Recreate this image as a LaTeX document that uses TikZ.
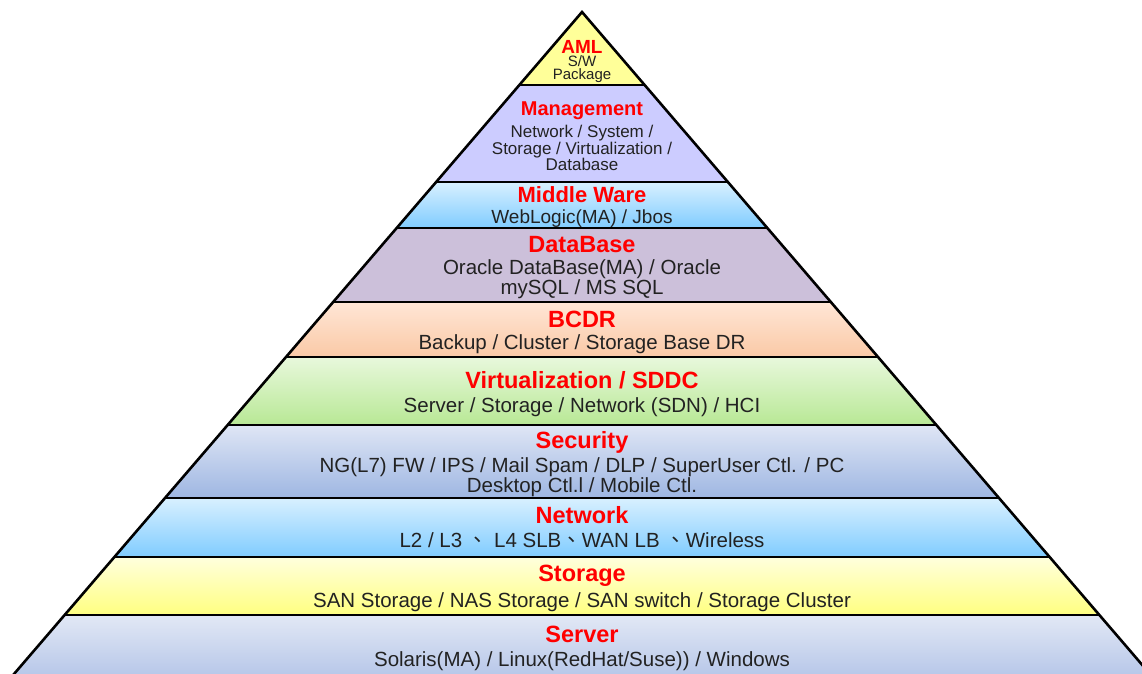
\documentclass[tikz,border=0pt]{standalone}
\usepackage{fontspec}
\setmainfont{Liberation Sans}
\newfontfamily\cjk{Noto Sans CJK TC}
\usetikzlibrary{positioning,calc}

\definecolor{textgray}{HTML}{222222}
\definecolor{amlfill}{HTML}{FFFF99}
\definecolor{mgmtfill}{HTML}{CCCCFF}
\definecolor{mwtop}{HTML}{D8F0FF}
\definecolor{mwbot}{HTML}{80CCFF}
\definecolor{dbfill}{HTML}{CCC0DA}
\definecolor{bctop}{HTML}{FFE6D6}
\definecolor{bcbot}{HTML}{FAC9A6}
\definecolor{vttop}{HTML}{E8F8DC}
\definecolor{vtbot}{HTML}{B8E895}
\definecolor{sctop}{HTML}{DFE6F5}
\definecolor{scbot}{HTML}{9EB6E2}
\definecolor{nwtop}{HTML}{D8F0FF}
\definecolor{nwbot}{HTML}{80CCFF}
\definecolor{sttop}{HTML}{FFFFDD}
\definecolor{stbot}{HTML}{FFFF80}
\definecolor{svtop}{HTML}{E2E8F5}
\definecolor{svbot}{HTML}{A6BAE4}

\begin{document}
\begin{tikzpicture}[x=1pt, y=-1pt,
    title/.style={text=red, font=\bfseries\fontsize{23.5}{26}\selectfont, inner sep=0pt, yshift=-2.5pt},
    body/.style={text=textgray, font=\fontsize{20.5}{16}\selectfont, align=center, inner sep=0pt, yshift=-2.5pt}]
    \useasboundingbox (0,0) rectangle (1142,673);
    \clip (0,0) rectangle (1142,673);

    % Bands of the pyramid
    \foreach \ytop/\ybot/\ctop/\cbot in {12/85/amlfill/amlfill, 85/182/mgmtfill/mgmtfill,
        182/228/mwtop/mwbot, 228/302/dbfill/dbfill, 302/357/bctop/bcbot,
        357/425/vttop/vtbot, 425/498/sctop/scbot, 498/557/nwtop/nwbot,
        557/615/sttop/stbot, 615/700/svtop/svbot} {
        \pgfmathsetmacro\wt{0.858*(\ytop-12)}
        \pgfmathsetmacro\wb{0.858*(\ybot-12)}
        \shade[top color=\ctop, bottom color=\cbot]
            (582-\wt,\ytop) -- (582+\wt,\ytop) -- (582+\wb,\ybot) -- (582-\wb,\ybot) -- cycle;
    }

    % Separators and outline
    \foreach \y in {85,182,228,302,357,425,498,557,615} {
        \pgfmathsetmacro\w{0.858*(\y-12)}
        \draw[line width=2.6pt] (582-\w,\y) -- (582+\w,\y);
    }
    \coordinate (apex) at (582,12);
    \coordinate (baseL) at ($(582,12)+(-0.858*688,688)$);
    \coordinate (baseR) at ($(582,12)+(0.858*688,688)$);
    \draw[line width=2.6pt, line join=miter] (baseL) -- (apex) -- (baseR);

    % Labels
    \node[title, font=\bfseries\fontsize{19}{21}\selectfont] (aml) at (582,44) {AML};
    \node[body, font=\fontsize{15}{13}\selectfont] (amlsub) at (582,67) {S/W\\Package};

    \node[title, font=\bfseries\fontsize{20}{22}\selectfont] (mgmt) at (582,108) {Management};
    \node[body, font=\fontsize{17}{14.5}\selectfont] (mgmtsub) at (582,145.5)
        {Network / System /\\Storage / Virtualization /\\Database};

    \node[title, font=\bfseries\fontsize{22}{24}\selectfont] (mw) at (582,192) {Middle Ware};
    \node[body, font=\fontsize{19}{16}\selectfont] (mwsub) at (582,216) {WebLogic(MA) / Jbos};

    \node[title] (db) at (582,242) {DataBase};
    \node[body] (dbsub) at (582,277) {Oracle DataBase(MA) / Oracle\\mySQL / MS SQL};

    \node[title] (bcdr) at (582,317) {BCDR};
    \node[body] (bcdrsub) at (582,342) {Backup / Cluster / Storage Base DR};

    \node[title] (virt) at (582,378) {Virtualization / SDDC};
    \node[body] (virtsub) at (582,405) {Server / Storage / Network (SDN) / HCI};

    \node[title] (sec) at (582,440) {Security};
    \node[body] (secsub) at (582,474.5)
        {NG(L7) FW / IPS / Mail Spam / DLP / SuperUser Ctl. / PC\\Desktop Ctl.l / Mobile Ctl.};

    \node[title] (net) at (582,513) {Network};
    \node[body] (netsub) at (582,538) {L2 / L3 {\cjk 、} L4 SLB{\cjk 、}WAN LB {\cjk 、}Wireless};

    \node[title] (stor) at (582,573) {Storage};
    \node[body] (storsub) at (582,600) {SAN Storage / NAS Storage / SAN switch / Storage Cluster};

    \node[title] (srv) at (582,632) {Server};
    \node[body] (srvsub) at (582,659) {Solaris(MA) / Linux(RedHat/Suse)) / Windows};
\end{tikzpicture}
\end{document}
